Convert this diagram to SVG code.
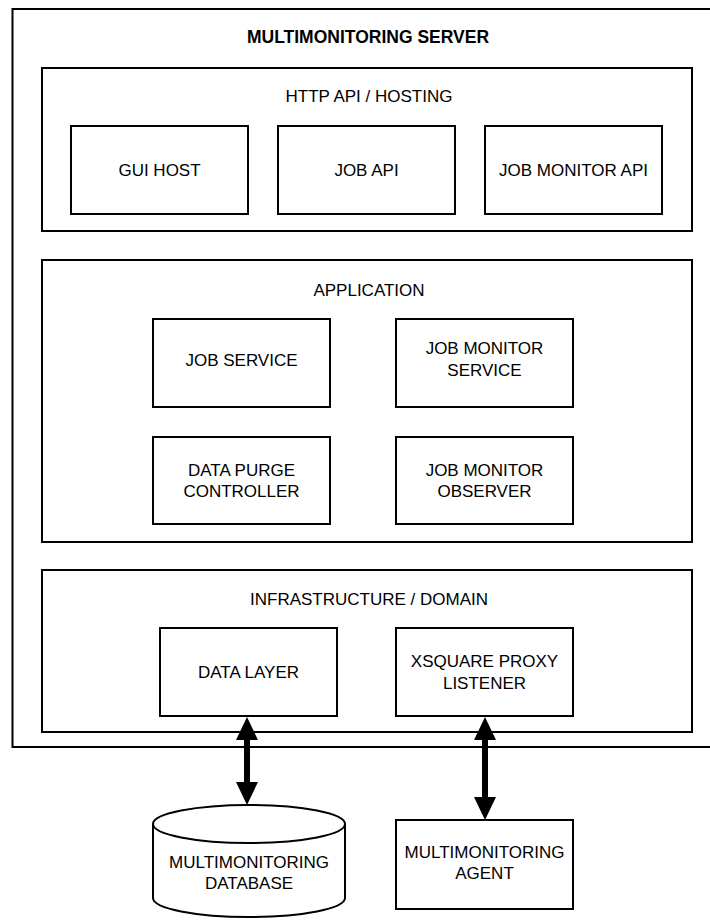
<svg xmlns="http://www.w3.org/2000/svg" width="710" height="920" viewBox="0 0 710 920">
<style>
.box{fill:#fff;stroke:#000;stroke-width:2}
.t{font-family:"Liberation Sans",Arial,sans-serif;font-size:17px;fill:#000;text-anchor:middle}
.b{font-weight:bold;font-size:17.5px}
.conn{stroke:#000;stroke-width:6;fill:none}
.head{fill:#000;stroke:none}
</style>
<rect width="710" height="920" fill="#fff"/>
<g id="server">
<rect class="box" x="12.5" y="9" width="720" height="738"/>
<text class="t b" x="368" y="43">MULTIMONITORING SERVER</text>
</g>
<g id="http">
<rect class="box" x="42" y="68" width="650" height="163"/>
<text class="t" x="369" y="102">HTTP API / HOSTING</text>
</g>
<g id="gui-host">
<rect class="box" x="71" y="126" width="177" height="88"/>
<text class="t" x="159.5" y="176">GUI HOST</text>
</g>
<g id="job-api">
<rect class="box" x="278" y="126" width="177" height="88"/>
<text class="t" x="366.5" y="176">JOB API</text>
</g>
<g id="job-monitor-api">
<rect class="box" x="485" y="126" width="177" height="88"/>
<text class="t" x="573.5" y="176">JOB MONITOR API</text>
</g>
<g id="application">
<rect class="box" x="42" y="260" width="650" height="282"/>
<text class="t" x="369" y="296">APPLICATION</text>
</g>
<g id="job-service">
<rect class="box" x="153" y="319" width="177" height="88"/>
<text class="t" x="241.5" y="366">JOB SERVICE</text>
</g>
<g id="job-monitor-service">
<rect class="box" x="396" y="319" width="177" height="88"/>
<text class="t" x="484.5" y="354">JOB MONITOR</text>
<text class="t" x="484.5" y="376">SERVICE</text>
</g>
<g id="data-purge-controller">
<rect class="box" x="153" y="437" width="177" height="87"/>
<text class="t" x="241.5" y="476">DATA PURGE</text>
<text class="t" x="241.5" y="497">CONTROLLER</text>
</g>
<g id="job-monitor-observer">
<rect class="box" x="396" y="437" width="177" height="87"/>
<text class="t" x="484.5" y="476">JOB MONITOR</text>
<text class="t" x="484.5" y="497">OBSERVER</text>
</g>
<g id="infrastructure">
<rect class="box" x="42" y="570" width="650" height="162"/>
<text class="t" x="369" y="605">INFRASTRUCTURE / DOMAIN</text>
</g>
<g id="data-layer">
<rect class="box" x="160" y="628" width="177" height="88"/>
<text class="t" x="248.5" y="678">DATA LAYER</text>
</g>
<g id="xsquare-proxy-listener">
<rect class="box" x="396" y="628" width="177" height="88"/>
<text class="t" x="484.5" y="667">XSQUARE PROXY</text>
<text class="t" x="484.5" y="689">LISTENER</text>
</g>
<g id="database">
<path class="box" d="M153,824 A96,19 0 0 1 345,824 L345,898 A96,19 0 0 1 153,898 Z"/>
<path class="box" style="fill:none" d="M153,824 A96,19 0 0 0 345,824"/>
<text class="t" x="249" y="868">MULTIMONITORING</text>
<text class="t" x="249" y="889">DATABASE</text>
</g>
<g id="agent">
<rect class="box" x="396" y="820" width="177" height="89"/>
<text class="t" x="484.5" y="858">MULTIMONITORING</text>
<text class="t" x="484.5" y="879">AGENT</text>
</g>
<g id="connectors">
<line class="conn" x1="247" y1="735" x2="247" y2="787"/>
<polygon class="head" points="247,717 258,740 236,740"/>
<polygon class="head" points="247,805 258,782 236,782"/>
<line class="conn" x1="485" y1="735" x2="485" y2="802"/>
<polygon class="head" points="485,717 496,740 474,740"/>
<polygon class="head" points="485,820 496,797 474,797"/>
</g>
</svg>
